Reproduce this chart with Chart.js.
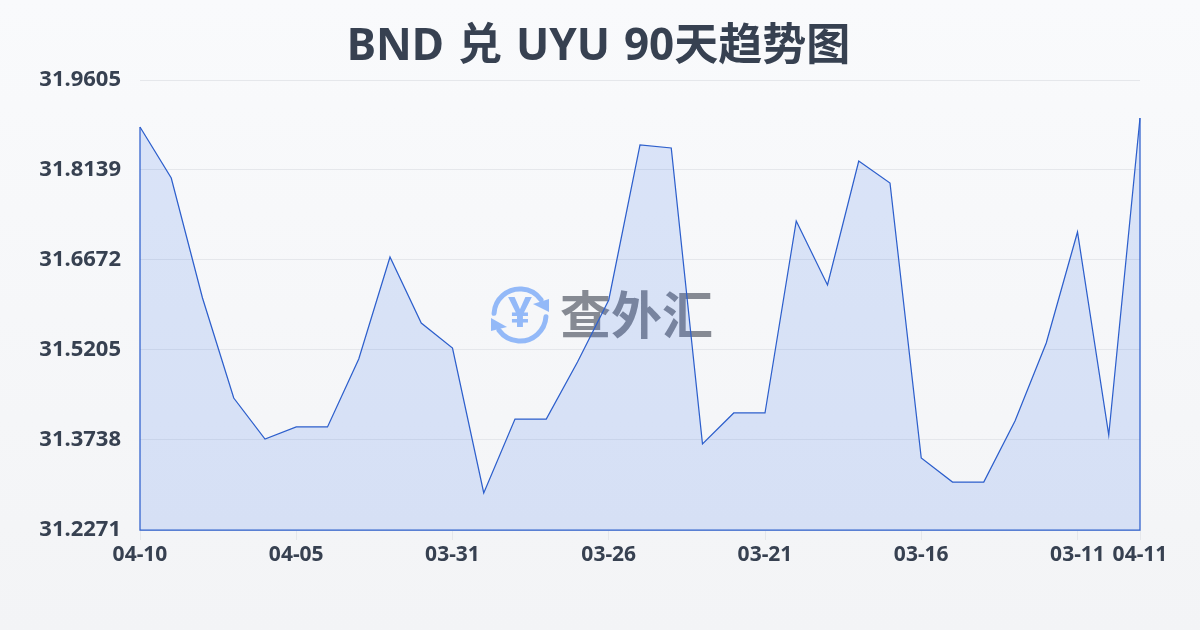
<!DOCTYPE html>
<html>
<head>
<meta charset="utf-8">
<style>
  html, body { margin: 0; padding: 0; }
  body { width: 1200px; height: 630px; overflow: hidden; background: linear-gradient(180deg, #f9fafc 0%, #f3f4f6 100%); }
  canvas { display: block; }
</style>
</head>
<body>
<canvas id="myChart" width="1200" height="630"></canvas>
<script src="https://cdn.jsdelivr.net/npm/chart.js@4"></script>
<script>
const titleText = 'BND 兑 UYU 90天趋势图';
const dates = ['04-10', '04-09', '04-08', '04-07', '04-06', '04-05', '04-04', '04-03', '04-02', '04-01', '03-31',
  '03-30', '03-29', '03-28', '03-27', '03-26', '03-25', '03-24', '03-23', '03-22', '03-21',
  '03-20', '03-19', '03-18', '03-17', '03-16', '03-15', '03-14', '03-13', '03-12', '03-11', '03-10', '04-11'];
const rates = [31.8839, 31.8008, 31.6052, 31.4422, 31.3754, 31.3950, 31.3950, 31.5058, 31.6720, 31.5645, 31.5237,
  31.2874, 31.4080, 31.4080, 31.5009, 31.6020, 31.8546, 31.8497, 31.3673, 31.4178, 31.4178,
  31.7307, 31.6264, 31.8285, 31.7926, 31.3444, 31.3053, 31.3053, 31.4047, 31.5319, 31.7128, 31.3819, 31.8986];
const yTicks = [31.2271, 31.3738, 31.5205, 31.6672, 31.8139, 31.9605];
const xTickIndexes = [0, 5, 10, 15, 20, 25, 30, 32];

const textColor = '#374151';
const lineColor = '#2d5fcc';

// the built-in title centres on the layout box, which is off by 30px here
const pageTitle = {
  id: 'pageTitle',
  afterDraw(c) {
    const ctx = c.ctx;
    ctx.save();
    ctx.fillStyle = textColor;
    ctx.font = 'bold 44px "Noto Sans", "Noto Sans CJK SC"';
    ctx.wordSpacing = '2.5px';
    ctx.textAlign = 'center';
    ctx.textBaseline = 'middle';
    ctx.fillText(titleText, 598.5, 47);
    ctx.restore();
  }
};

// watermark sits under the line, so it goes in before the datasets
const watermark = {
  id: 'watermark',
  beforeDatasetsDraw(c) {
    const ctx = c.ctx;
    ctx.save();
    ctx.strokeStyle = '#93b9f8';
    ctx.fillStyle = '#93b9f8';
    ctx.lineWidth = 5;
    ctx.lineCap = 'round';
    ctx.beginPath();
    ctx.arc(520, 315, 26, Math.PI * 1.02, Math.PI * 1.8);
    ctx.stroke();
    ctx.beginPath();
    ctx.arc(520, 315, 26, Math.PI * 0.02, Math.PI * 0.8);
    ctx.stroke();
    ctx.beginPath();
    ctx.moveTo(549, 299); ctx.lineTo(549, 312); ctx.lineTo(533, 304);
    ctx.closePath();
    ctx.fill();
    ctx.beginPath();
    ctx.moveTo(491, 318); ctx.lineTo(491, 331); ctx.lineTo(507, 327);
    ctx.closePath();
    ctx.fill();
    ctx.font = 'bold 42px "Noto Sans"';
    ctx.textAlign = 'center';
    ctx.textBaseline = 'middle';
    ctx.fillText('¥', 520, 315);
    ctx.fillStyle = '#868a93';
    ctx.font = 'bold 51px "Noto Sans CJK SC"';
    ctx.textAlign = 'left';
    ctx.fillText('查外汇', 560, 315);
    ctx.restore();
  }
};

// the reference strokes the whole area, not only the top edge
const areaOutline = {
  id: 'areaOutline',
  afterDatasetsDraw(c) {
    const pts = c.getDatasetMeta(0).data;
    const base = c.scales.y.getPixelForValue(yTicks[0]);
    const ctx = c.ctx;
    ctx.save();
    ctx.strokeStyle = lineColor;
    ctx.lineWidth = 1.25;
    ctx.beginPath();
    ctx.moveTo(pts[0].x, pts[0].y);
    ctx.lineTo(pts[0].x, base);
    ctx.lineTo(pts[pts.length - 1].x, base);
    ctx.lineTo(pts[pts.length - 1].x, pts[pts.length - 1].y);
    ctx.stroke();
    ctx.restore();
  }
};

new Chart('myChart', {
  type: 'line',
  data: {
    labels: dates,
    datasets: [{
      data: rates,
      borderColor: lineColor,
      borderWidth: 1.25,
      backgroundColor: 'rgba(37, 99, 235, 0.14)',
      fill: 'start',
      pointRadius: 0,
      tension: 0
    }]
  },
  plugins: [watermark, areaOutline, pageTitle],
  options: {
    responsive: false,
    animation: false,
    layout: { padding: { top: 80, right: 60, bottom: 0, left: 0 } },
    plugins: {
      legend: { display: false },
      tooltip: { enabled: false },
      title: { display: false }
    },
    scales: {
      x: {
        offset: false,
        afterBuildTicks(scale) {
          scale.ticks = xTickIndexes.map(i => ({ value: i }));
        },
        afterFit(scale) { scale.height = 100; },
        grid: { drawOnChartArea: false, drawTicks: true, tickLength: 10, tickColor: '#e5e7eb' },
        border: { display: false },
        ticks: {
          autoSkip: false,
          maxRotation: 0,
          padding: 2,
          color: textColor,
          font: { family: '"Noto Sans"', size: 21, weight: 'bold' },
          callback(value) { return dates[value]; }
        }
      },
      y: {
        min: yTicks[0],
        max: yTicks[yTicks.length - 1],
        afterBuildTicks(scale) {
          scale.ticks = yTicks.map(v => ({ value: v }));
        },
        afterFit(scale) { scale.width = 140; },
        grid: { color: '#e5e7eb', lineWidth: 1, drawTicks: false },
        border: { display: false },
        ticks: {
          padding: 19,
          color: textColor,
          font: { family: '"Noto Sans"', size: 22, weight: 'bold' },
          callback(value) { return value.toFixed(4); }
        }
      }
    }
  }
});
</script>
</body>
</html>
